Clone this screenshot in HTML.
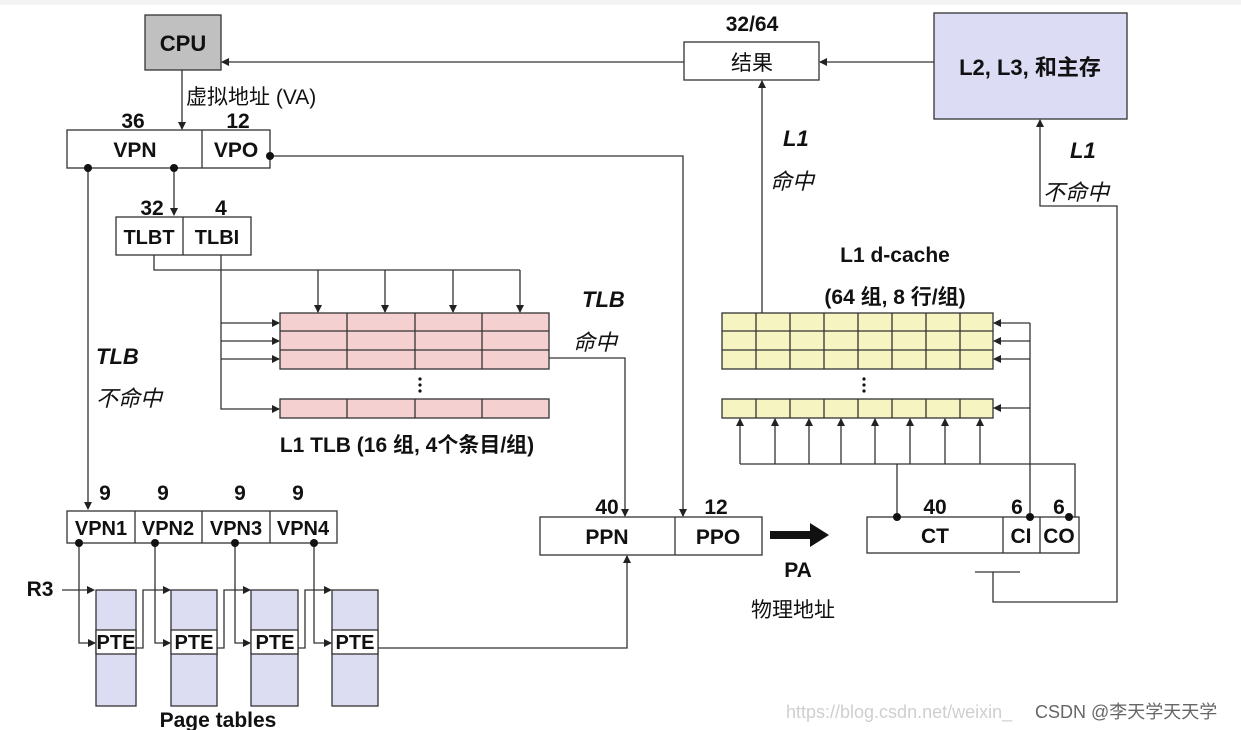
<!DOCTYPE html>
<html><head><meta charset="utf-8"><style>
body{margin:0;background:#fff}
svg{display:block}
text{font-family:"Liberation Sans","Noto Sans CJK SC",sans-serif;fill:#111}
.b{font-weight:bold}
.i{font-style:italic}
</style></head><body>
<svg width="1241" height="730" viewBox="0 0 1241 730" xmlns="http://www.w3.org/2000/svg">
<defs>
<marker id="a" markerWidth="8" markerHeight="8" refX="7" refY="4" orient="auto" markerUnits="userSpaceOnUse"><path d="M0,0 L8,4 L0,8 z" fill="#222"/></marker>
</defs>
<rect x="0" y="0" width="1241" height="5" fill="#f3f3f3"/>
<g stroke="#333" stroke-width="1.3" fill="none">
<rect x="145" y="15" width="76" height="55" fill="#c0c0c0"/>
<line x1="684" y1="62" x2="222" y2="62" marker-end="url(#a)"/>
<line x1="182" y1="70" x2="182" y2="129" marker-end="url(#a)"/>
<rect x="67" y="130" width="203" height="38" fill="#fff"/>
<line x1="202" y1="130" x2="202" y2="168"/>
<path d="M270,156 H683 V516" marker-end="url(#a)"/>
<line x1="174" y1="168" x2="174" y2="215" marker-end="url(#a)"/>
<line x1="88" y1="168" x2="88" y2="509" marker-end="url(#a)"/>
<rect x="116" y="217" width="135" height="38" fill="#fff"/>
<line x1="183" y1="217" x2="183" y2="255"/>
<path d="M154,255 V270 H520"/>
<line x1="318" y1="270" x2="318" y2="312" marker-end="url(#a)"/>
<line x1="385" y1="270" x2="385" y2="312" marker-end="url(#a)"/>
<line x1="453" y1="270" x2="453" y2="312" marker-end="url(#a)"/>
<line x1="520" y1="270" x2="520" y2="312" marker-end="url(#a)"/>
<path d="M221,255 V409 H279" marker-end="url(#a)"/>
<line x1="221" y1="323" x2="279" y2="323" marker-end="url(#a)"/>
<line x1="221" y1="341" x2="279" y2="341" marker-end="url(#a)"/>
<line x1="221" y1="359" x2="279" y2="359" marker-end="url(#a)"/>
<rect x="280" y="313" width="269" height="56" fill="#f5d0d0"/>
<rect x="280" y="399" width="269" height="19" fill="#f5d0d0"/>
<line x1="280" y1="331" x2="549" y2="331"/><line x1="280" y1="350" x2="549" y2="350"/>
<path d="M347,313V369M415,313V369M482,313V369M347,399V418M415,399V418M482,399V418"/>
<path d="M549,358 H625 V516" marker-end="url(#a)"/>
<rect x="67" y="511" width="270" height="32" fill="#fff"/>
<path d="M135,511V543M202,511V543M270,511V543"/>
<line x1="62" y1="590" x2="94" y2="590" marker-end="url(#a)"/>
<rect x="96" y="590" width="40" height="116" fill="#dcdcf3"/>
<rect x="171" y="590" width="46" height="116" fill="#dcdcf3"/>
<rect x="251" y="590" width="47" height="116" fill="#dcdcf3"/>
<rect x="332" y="590" width="46" height="116" fill="#dcdcf3"/>
<rect x="96" y="630" width="40" height="24" fill="#fff"/>
<rect x="171" y="630" width="46" height="24" fill="#fff"/>
<rect x="251" y="630" width="47" height="24" fill="#fff"/>
<rect x="332" y="630" width="46" height="24" fill="#fff"/>
<path d="M79,543 V643 H95" marker-end="url(#a)"/>
<path d="M155,543 V643 H170" marker-end="url(#a)"/>
<path d="M235,543 V643 H250" marker-end="url(#a)"/>
<path d="M314,543 V643 H331" marker-end="url(#a)"/>
<path d="M136,648 H143 V590 H170" marker-end="url(#a)"/>
<path d="M217,648 H224 V590 H250" marker-end="url(#a)"/>
<path d="M298,648 H305 V590 H331" marker-end="url(#a)"/>
<path d="M378,648 H627 V556" marker-end="url(#a)"/>
<rect x="540" y="517" width="222" height="38" fill="#fff"/>
<line x1="675" y1="517" x2="675" y2="555"/>
<rect x="867" y="517" width="212" height="36" fill="#fff"/>
<path d="M1003,517V553M1040,517V553"/>
<rect x="722" y="313" width="271" height="56" fill="#f6f4c0"/>
<rect x="722" y="399" width="271" height="19" fill="#f6f4c0"/>
<line x1="722" y1="331" x2="993" y2="331"/><line x1="722" y1="350" x2="993" y2="350"/>
<path d="M756,313V369M790,313V369M824,313V369M858,313V369M892,313V369M926,313V369M960,313V369M756,399V418M790,399V418M824,399V418M858,399V418M892,399V418M926,399V418M960,399V418"/>
<path d="M1030,517 V323"/>
<line x1="1030" y1="323" x2="994" y2="323" marker-end="url(#a)"/>
<line x1="1030" y1="341" x2="994" y2="341" marker-end="url(#a)"/>
<line x1="1030" y1="359" x2="994" y2="359" marker-end="url(#a)"/>
<line x1="1030" y1="408" x2="994" y2="408" marker-end="url(#a)"/>
<path d="M740,464 H1075 V517 M897,464 V517"/>
<line x1="740" y1="464" x2="740" y2="419" marker-end="url(#a)"/>
<line x1="775" y1="464" x2="775" y2="419" marker-end="url(#a)"/>
<line x1="809" y1="464" x2="809" y2="419" marker-end="url(#a)"/>
<line x1="841" y1="464" x2="841" y2="419" marker-end="url(#a)"/>
<line x1="875" y1="464" x2="875" y2="419" marker-end="url(#a)"/>
<line x1="910" y1="464" x2="910" y2="419" marker-end="url(#a)"/>
<line x1="945" y1="464" x2="945" y2="419" marker-end="url(#a)"/>
<line x1="980" y1="464" x2="980" y2="419" marker-end="url(#a)"/>
<line x1="762" y1="313" x2="762" y2="81" marker-end="url(#a)"/>
<rect x="684" y="42" width="135" height="38" fill="#fff"/>
<rect x="934" y="13" width="193" height="106" fill="#dcdcf5"/>
<line x1="934" y1="62" x2="820" y2="62" marker-end="url(#a)"/>
<path d="M975,572 H1020 M993,572 V602 H1117 V206 H1040 V120" marker-end="url(#a)"/>
</g>
<g fill="#111">
<circle cx="270" cy="156" r="4"/><circle cx="88" cy="168" r="4"/><circle cx="174" cy="168" r="4"/>
<circle cx="79" cy="543" r="4"/><circle cx="155" cy="543" r="4"/><circle cx="235" cy="543" r="4"/><circle cx="314" cy="543" r="4"/>
<circle cx="897" cy="517" r="4"/><circle cx="1030" cy="517" r="4"/><circle cx="1069" cy="517" r="4"/>
<circle cx="420" cy="379" r="1.6"/><circle cx="420" cy="385" r="1.6"/><circle cx="420" cy="391" r="1.6"/>
<circle cx="864" cy="379" r="1.6"/><circle cx="864" cy="385" r="1.6"/><circle cx="864" cy="391" r="1.6"/>
<path d="M770,531 H810 V523 L829,535 L810,547 V539 H770 z"/>
</g>
<g class="b" font-size="21" text-anchor="middle">
<text x="183" y="51" font-size="22">CPU</text>
<text x="133" y="128">36</text><text x="238" y="128">12</text>
<text x="135" y="157">VPN</text><text x="236" y="157">VPO</text>
<text x="152" y="215">32</text><text x="221" y="215">4</text>
<text x="149" y="244" font-size="20">TLBT</text><text x="217" y="244" font-size="20">TLBI</text>
<text x="407" y="452">L1 TLB (16 组, 4个条目/组)</text>
<text x="105" y="500">9</text><text x="163" y="500">9</text><text x="240" y="500">9</text><text x="298" y="500">9</text>
<text x="101" y="535" font-size="20">VPN1</text><text x="168" y="535" font-size="20">VPN2</text><text x="236" y="535" font-size="20">VPN3</text><text x="303" y="535" font-size="20">VPN4</text>
<text x="40" y="596">R3</text>
<text x="116" y="649" font-size="20">PTE</text><text x="194" y="649" font-size="20">PTE</text><text x="275" y="649" font-size="20">PTE</text><text x="355" y="649" font-size="20">PTE</text>
<text x="218" y="727">Page tables</text>
<text x="607" y="514">40</text><text x="716" y="514">12</text>
<text x="607" y="544">PPN</text><text x="718" y="544">PPO</text>
<text x="798" y="577">PA</text>
<text x="935" y="514">40</text><text x="1017" y="514">6</text><text x="1059" y="514">6</text>
<text x="935" y="543">CT</text><text x="1021" y="543">CI</text><text x="1059" y="543">CO</text>
<text x="895" y="262">L1 d-cache</text>
<text x="895" y="304">(64 组, 8 行/组)</text>
<text x="752" y="31">32/64</text>
<text x="1030" y="75" font-size="22">L2, L3, 和主存</text>
</g>
<g font-size="21">
<text x="186" y="104">虚拟地址 (VA)</text>
<text x="752" y="70" text-anchor="middle">结果</text>
<text x="793" y="617" text-anchor="middle">物理地址</text>
</g>
<g class="i" font-size="22">
<text x="582" y="307" class="b">TLB</text><text x="573" y="350">命中</text>
<text x="96" y="364" class="b">TLB</text><text x="96" y="406">不命中</text>
<text x="783" y="146" class="b">L1</text><text x="770" y="189">命中</text>
<text x="1070" y="158" class="b">L1</text><text x="1043" y="200">不命中</text>
</g>
<text x="786" y="718" font-size="18" style="fill:#cfcfcf">https://blog.csdn.net/weixin_</text>
<text x="1035" y="718" font-size="18" style="fill:#666">CSDN @李天学天天学</text>
</svg>
</body></html>
